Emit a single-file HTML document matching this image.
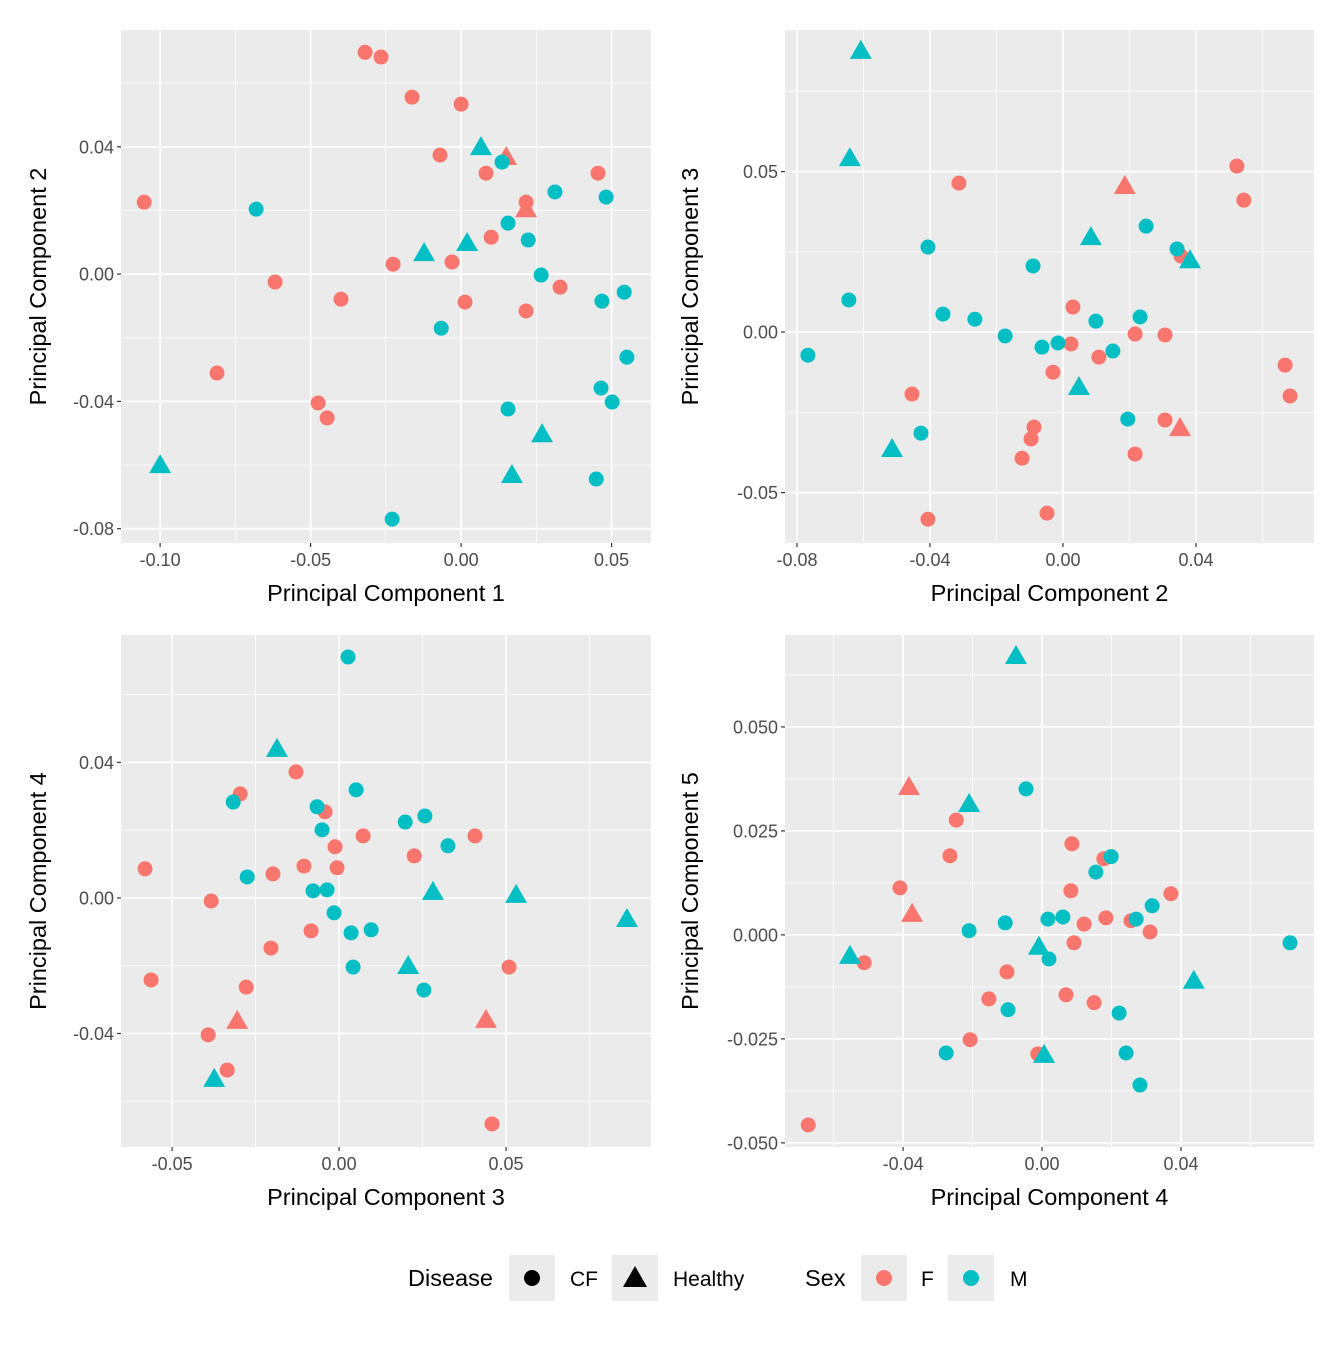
<!DOCTYPE html>
<html><head><meta charset="utf-8"><style>
body{margin:0;background:#fff;}
svg text{font-family:"Liberation Sans",Arial,sans-serif;}
</style></head><body>
<svg id="chart" width="1344" height="1344" xmlns="http://www.w3.org/2000/svg"></svg>
<script>
// Panel 1: PC1 vs PC2
const p1X=[-0.0319,-0.0266,-0.0163,0,-0.0070,0.0083,0.0455,-0.1053,0.0216,0.0100,-0.0226,-0.0030,-0.0618,0.0329,-0.0399,0.0013,0.0216,-0.0811,-0.0475,-0.0445,0.0150,0.0216,
-0.0681,0.0136,0.0312,0.0482,0.0156,0.0223,0.0266,0.0468,0.0542,-0.0066,0.0551,0.0465,0.0502,0.0156,0.0449,-0.0229,0.0066,-0.0123,0.0020,-0.1000,0.0269,0.0169];
const p1Y=[0.0697,0.0682,0.0556,0.0534,0.0374,0.0317,0.0317,0.0226,0.0226,0.0116,0.0031,0.0038,-0.0025,-0.0041,-0.0079,-0.0088,-0.0116,-0.0311,-0.0405,-0.0452,0.0371,0.0207,
0.0204,0.0352,0.0258,0.0242,0.0160,0.0107,-0.0003,-0.0085,-0.0057,-0.0170,-0.0261,-0.0358,-0.0402,-0.0424,-0.0644,-0.0770,0.0402,0.0069,0.0101,-0.0597,-0.0500,-0.0628];
const p1Sex="FFFFFFFFFFFFFFFFFFFFFFMMMMMMMMMMMMMMMMMMMMMM".split("");
const p1Dis="CCCCCCCCCCCCCCCCCCCCHHCCCCCCCCCCCCCCCCHHHHHH".split("");
// Panel 2: PC2 vs PC3
const p2X=[-0.0313,0.0523,0.0544,0.0030,0.0024,0.0217,0.0307,0.0108,-0.0030,-0.0454,0.0668,0.0683,-0.0087,-0.0096,-0.0123,0.0217,0.0307,-0.0406,-0.0048,0.0355,0.0186,0.0352,
-0.0406,0.0250,0.0343,-0.0090,-0.0644,-0.0361,-0.0265,-0.0174,-0.0063,-0.0015,0.0099,0.0232,0.0150,-0.0767,0.0195,-0.0427,-0.0608,-0.0641,0.0084,0.0382,0.0048,-0.0514];
const p2Y=[0.0464,0.0517,0.0411,0.0078,-0.0037,-0.0006,-0.0009,-0.0078,-0.0125,-0.0193,-0.0103,-0.0199,-0.0296,-0.0333,-0.0393,-0.0380,-0.0274,-0.0583,-0.0564,0.0237,0.0458,-0.0296,
0.0265,0.0330,0.0259,0.0206,0.0100,0.0056,0.0040,-0.0012,-0.0047,-0.0034,0.0034,0.0047,-0.0059,-0.0072,-0.0271,-0.0315,0.0879,0.0545,0.0299,0.0227,-0.0168,-0.0361];
const p2Sex=p1Sex.slice();
const p2Dis=p1Dis.slice();
// Panel 3: PC3 vs PC4
const p3X=[-0.0129,-0.0296,-0.0042,0.0072,0.0407,-0.0012,0.0225,-0.0105,-0.0006,-0.0581,-0.0198,-0.0383,-0.0084,-0.0204,0.0509,-0.0563,-0.0278,-0.0392,-0.0335,0.0458,-0.0305,0.0440,
0.0027,0.0051,-0.0317,-0.0066,-0.0051,0.0257,0.0198,0.0326,-0.0275,-0.0078,-0.0036,-0.0015,0.0036,0.0096,0.0042,0.0254,-0.0186,0.0281,0.0530,0.0862,0.0207,-0.0374];
const p3Y=[0.0372,0.0307,0.0254,0.0183,0.0183,0.0151,0.0124,0.0094,0.0089,0.0086,0.0071,-0.0009,-0.0097,-0.0148,-0.0204,-0.0242,-0.0263,-0.0404,-0.0508,-0.0667,-0.0360,-0.0357,
0.0711,0.0319,0.0283,0.0269,0.0201,0.0242,0.0224,0.0154,0.0062,0.0021,0.0024,-0.0044,-0.0103,-0.0094,-0.0204,-0.0272,0.0443,0.0021,0.0012,-0.0059,-0.0198,-0.0531];
const p3Sex=p1Sex.slice();
const p3Dis=p1Dis.slice();
// Panel 4: PC4 vs PC5
const p4X=[-0.0247,-0.0265,0.0086,0.0178,-0.0409,0.0083,0.0371,0.0184,0.0121,0.0256,0.0311,-0.0512,0.0092,-0.0101,-0.0153,0.0069,0.0150,-0.0207,-0.0012,-0.0673,-0.0383,-0.0374,
-0.0046,0.0199,0.0155,0.0317,0.0271,-0.0210,-0.0106,0.0017,0.0060,0.0020,0.0714,-0.0098,0.0222,-0.0276,0.0242,0.0282,-0.0075,-0.0210,-0.0553,-0.0009,0.0437,0.0006];
const p4Y=[0.0276,0.0190,0.0219,0.0183,0.0113,0.0106,0.0099,0.0041,0.0026,0.0034,0.0007,-0.0067,-0.0019,-0.0089,-0.0154,-0.0144,-0.0163,-0.0252,-0.0286,-0.0457,0.0358,0.0053,
0.0351,0.0188,0.0151,0.0070,0.0038,0.0010,0.0029,0.0038,0.0043,-0.0058,-0.0019,-0.0180,-0.0188,-0.0284,-0.0284,-0.0361,0.0673,0.0317,-0.0048,-0.0026,-0.0108,-0.0286];
const p4Sex=p1Sex.slice();
const p4Dis=p1Dis.slice();
const xTicks1=[-0.10,-0.05,0.00,0.05], xLab1=["-0.10","-0.05","0.00","0.05"];
const yTicks1=[0.04,0.00,-0.04,-0.08], yLab1=["0.04","0.00","-0.04","-0.08"];
const xTicks2=[-0.08,-0.04,0.00,0.04], xLab2=["-0.08","-0.04","0.00","0.04"];
const yTicks2=[0.05,0.00,-0.05], yLab2=["0.05","0.00","-0.05"];
const xTicks3=[-0.05,0.00,0.05], xLab3=["-0.05","0.00","0.05"];
const yTicks3=[0.04,0.00,-0.04], yLab3=["0.04","0.00","-0.04"];
const xTicks4=[-0.04,0.00,0.04], xLab4=["-0.04","0.00","0.04"];
const yTicks4=[0.050,0.025,0.000,-0.025,-0.050], yLab4=["0.050","0.025","0.000","-0.025","-0.050"];

const NS="http://www.w3.org/2000/svg";
const svg=document.getElementById('chart');
function mk(tag,attrs,parent){const e=document.createElementNS(NS,tag);for(const k in attrs)e.setAttribute(k,attrs[k]);(parent||svg).appendChild(e);return e;}
const COL={F:"#F8766D",M:"#00BFC4"};

function panel(cfg){
  const g=mk('g',{});
  
  
  const {L,R,T,B,xd,yd}=cfg;
  const sx=v=>L+(v-xd[0])/(xd[1]-xd[0])*(R-L);
  const sy=v=>B-(v-yd[0])/(yd[1]-yd[0])*(B-T);
  const bg=mk('rect',{x:L,y:T,width:R-L,height:B-T,fill:"#EBEBEB"},g);
  
  
  const xs=cfg.xt, ys=cfg.yt;
  const xstep=xs[1]-xs[0], ystep=ys[1]-ys[0];
  for(let i=-2;i<xs.length+2;i++){const v=xs[0]+(i+0.5)*xstep;const p=sx(v);if(p>L&&p<R)mk('line',{x1:p,x2:p,y1:T,y2:B,stroke:"#fff","stroke-width":0.8},g);}
  for(let i=-2;i<ys.length+2;i++){const v=ys[0]+(i+0.5)*ystep;const p=sy(v);if(p>T&&p<B)mk('line',{x1:L,x2:R,y1:p,y2:p,stroke:"#fff","stroke-width":0.8},g);}
  xs.forEach((v,i)=>{const p=sx(v);mk('line',{x1:p,x2:p,y1:T,y2:B,stroke:"#fff","stroke-width":1.7},g);
    mk('line',{x1:p,x2:p,y1:B,y2:B+4,stroke:"#333","stroke-width":1.2},g);
    const t=mk('text',{x:p,y:B+23,"text-anchor":"middle","font-size":18,fill:"#4D4D4D"},g);t.textContent=cfg.xl[i];
    });
  ys.forEach((v,i)=>{const p=sy(v);mk('line',{x1:L,x2:R,y1:p,y2:p,stroke:"#fff","stroke-width":1.7},g);
    mk('line',{x1:L-4,x2:L,y1:p,y2:p,stroke:"#333","stroke-width":1.2},g);
    const t=mk('text',{x:L-7,y:p+6.5,"text-anchor":"end","font-size":18,fill:"#4D4D4D"},g);t.textContent=cfg.yl[i];
    });
  const xt=mk('text',{x:(L+R)/2,y:B+58,"text-anchor":"middle","font-size":23.5,fill:"#000"},g);xt.textContent=cfg.xtitle;
  
  const yx=cfg.ytx;
  const yt=mk('text',{x:yx,y:(T+B)/2,"text-anchor":"middle","font-size":23.5,fill:"#000",transform:`rotate(-90 ${yx} ${(T+B)/2})`},g);yt.textContent=cfg.ytitle;
  
  cfg.X.forEach((xv,i)=>{
    const cx=sx(xv), cy=sy(cfg.Y[i]), c=COL[cfg.S[i]];
    let m;
    if(cfg.D[i]==="C"){m=mk('circle',{cx:cx,cy:cy,r:7.5,fill:c},g);}
    else{m=mk('polygon',{points:`${cx},${cy-10} ${cx-11},${cy+9} ${cx+11},${cy+9}`,fill:c},g);}
    
    
  });
}
panel({name:'panel-pc1-pc2',L:121,R:651,T:30,B:543,xd:[-0.1130,0.0631],yd:[-0.0845,0.0767],xt:xTicks1,xl:xLab1,yt:yTicks1,yl:yLab1,xtitle:"Principal Component 1",ytitle:"Principal Component 2",ytx:46,X:p1X,Y:p1Y,S:p1Sex,D:p1Dis});
panel({name:'panel-pc2-pc3',L:785,R:1314,T:30,B:543,xd:[-0.0836,0.0755],yd:[-0.0657,0.0941],xt:xTicks2,xl:xLab2,yt:yTicks2,yl:yLab2,xtitle:"Principal Component 2",ytitle:"Principal Component 3",ytx:698,X:p2X,Y:p2Y,S:p2Sex,D:p2Dis});
panel({name:'panel-pc3-pc4',L:121,R:651,T:635,B:1147,xd:[-0.0653,0.0934],yd:[-0.0735,0.0776],xt:xTicks3,xl:xLab3,yt:yTicks3,yl:yLab3,xtitle:"Principal Component 3",ytitle:"Principal Component 4",ytx:46,X:p3X,Y:p3Y,S:p3Sex,D:p3Dis});
panel({name:'panel-pc4-pc5',L:785,R:1314,T:635,B:1147,xd:[-0.0740,0.0783],yd:[-0.0510,0.0721],xt:xTicks4,xl:xLab4,yt:yTicks4,yl:yLab4,xtitle:"Principal Component 4",ytitle:"Principal Component 5",ytx:698,X:p4X,Y:p4Y,S:p4Sex,D:p4Dis});

// legend
const lg=mk('g',{});


function ltext(x,s,name,size){const t=mk('text',{x:x,y:1286,"font-size":size,fill:"#000"},lg);t.textContent=s;}
function lbox(x,name){const r=mk('rect',{x:x,y:1255,width:46,height:46,fill:"#EBEBEB"},lg);return x+23;}
ltext(408,"Disease",'legend-title-disease',23.5);
let c=lbox(509,'legend-key-cf');mk('circle',{cx:c,cy:1278,r:8,fill:"#000"},lg);
ltext(570,"CF",'legend-label-cf',21);
c=lbox(612,'legend-key-healthy');mk('polygon',{points:`${c},${1266} ${c-12},${1287} ${c+12},${1287}`,fill:"#000"},lg);
ltext(673,"Healthy",'legend-label-healthy',21);
ltext(805,"Sex",'legend-title-sex',23.5);
c=lbox(861,'legend-key-f');mk('circle',{cx:c,cy:1278,r:8,fill:"#F8766D"},lg);
ltext(921,"F",'legend-label-f',21);
c=lbox(948,'legend-key-m');mk('circle',{cx:c,cy:1278,r:8,fill:"#00BFC4"},lg);
ltext(1010,"M",'legend-label-m',21);
</script>
</body></html>
